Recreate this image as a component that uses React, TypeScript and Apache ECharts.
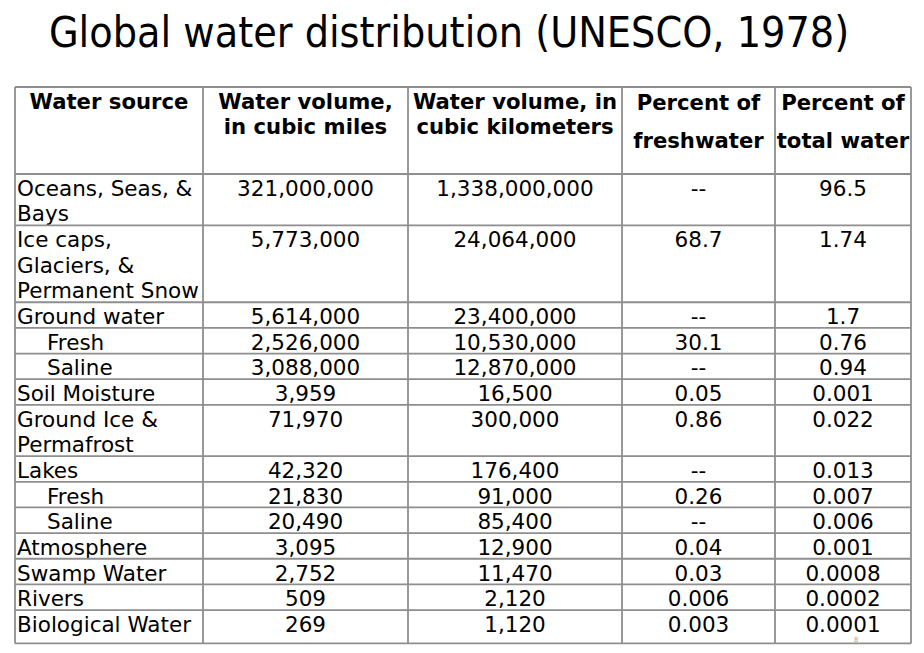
import React, { useEffect, useRef } from "react";
import * as echarts from "echarts";

const titleText = "Global water distribution (UNESCO, 1978)";

const headers: string[][] = [
  ["Water source"],
  ["Water volume,", "in cubic miles"],
  ["Water volume, in", "cubic kilometers"],
  ["Percent of", "freshwater"],
  ["Percent of", "total water"],
];

const sources: string[] = [
  "Oceans, Seas, &\nBays",
  "Ice caps,\nGlaciers, &\nPermanent Snow",
  "Ground water",
  "Fresh",
  "Saline",
  "Soil Moisture",
  "Ground Ice &\nPermafrost",
  "Lakes",
  "Fresh",
  "Saline",
  "Atmosphere",
  "Swamp Water",
  "Rivers",
  "Biological Water",
];

const subRow: boolean[] = [false, false, false, true, true, false, false, false, true, true, false, false, false, false];

const cubicMiles: string[] = [
  "321,000,000", "5,773,000", "5,614,000", "2,526,000", "3,088,000", "3,959", "71,970",
  "42,320", "21,830", "20,490", "3,095", "2,752", "509", "269",
];

const cubicKm: string[] = [
  "1,338,000,000", "24,064,000", "23,400,000", "10,530,000", "12,870,000", "16,500", "300,000",
  "176,400", "91,000", "85,400", "12,900", "11,470", "2,120", "1,120",
];

const pctFresh: string[] = [
  "--", "68.7", "--", "30.1", "--", "0.05", "0.86", "--", "0.26", "--", "0.04", "0.03", "0.006", "0.003",
];

const pctTotal: string[] = [
  "96.5", "1.74", "1.7", "0.76", "0.94", "0.001", "0.022", "0.013", "0.007", "0.006", "0.001", "0.0008", "0.0002", "0.0001",
];

// layout
const COL_X = [15, 203, 408, 622, 775, 911];
const TABLE_TOP = 87;
const HEADER_BOTTOM = 174;
const LINE_H = 25.65;
const LAST_ROW_EXTRA = 7.7;
const FONT = "DejaVu Sans, Verdana, sans-serif";
const FS = 21.5;
const FS_HEAD = 21.2;
const GRID = "#8e8e8e";

export default function App() {
  const ref = useRef<HTMLDivElement>(null);

  useEffect(() => {
    document.body.style.margin = "0";
    if (!ref.current) return;
    const chart = echarts.init(ref.current, undefined, { renderer: "svg" });

    const elements: any[] = [];
    const n = sources.length;

    // row boundaries
    const rowTops: number[] = [];
    let y = HEADER_BOTTOM;
    for (let i = 0; i < n; i++) {
      rowTops.push(y);
      const lines = sources[i].split("\n").length;
      y += lines * LINE_H + (i === n - 1 ? LAST_ROW_EXTRA : 0);
    }
    const tableBottom = y;

    // title
    elements.push({
      type: "text",
      style: {
        text: titleText,
        x: 449,
        y: 32,
        align: "center",
        verticalAlign: "middle",
        fontFamily: "Liberation Sans Narrow, Arial Narrow, DejaVu Sans Condensed, sans-serif",
        fontSize: 42.6,
        fill: "#000",
      },
    });

    // header texts
    headers.forEach((h, c) => {
      const cx = (COL_X[c] + COL_X[c + 1]) / 2;
      const lh = c >= 3 ? 38 : LINE_H;
      elements.push({
        type: "text",
        style: {
          text: h.join("\n"),
          x: cx,
          y: TABLE_TOP + 1.5 + (c >= 3 ? -5.5 : 0),
          align: "center",
          verticalAlign: "top",
          lineHeight: lh,
          fontFamily: FONT,
          fontWeight: "bold",
          fontSize: FS_HEAD,
          fill: "#000",
        },
      });
    });

    // body texts
    const cols = [cubicMiles, cubicKm, pctFresh, pctTotal];
    for (let i = 0; i < n; i++) {
      const ty = rowTops[i] + 1.5;
      elements.push({
        type: "text",
        style: {
          text: sources[i],
          x: COL_X[0] + 2 + (subRow[i] ? 30 : 0),
          y: ty,
          align: "left",
          verticalAlign: "top",
          lineHeight: LINE_H,
          fontFamily: FONT,
          fontSize: FS,
          fill: "#000",
        },
      });
      cols.forEach((arr, c) => {
        elements.push({
          type: "text",
          style: {
            text: arr[i],
            x: (COL_X[c + 1] + COL_X[c + 2]) / 2,
            y: ty,
            align: "center",
            verticalAlign: "top",
            lineHeight: LINE_H,
            fontFamily: FONT,
            fontSize: FS,
            fill: "#000",
          },
        });
      });
    }

    // grid lines
    const lineStyle = { stroke: GRID, lineWidth: 1.8 };
    COL_X.forEach((x) => {
      elements.push({
        type: "line",
        shape: { x1: x, y1: TABLE_TOP, x2: x, y2: tableBottom },
        style: lineStyle,
      });
    });
    const hLines = [TABLE_TOP, HEADER_BOTTOM, ...rowTops.slice(1), tableBottom];
    hLines.forEach((hy) => {
      elements.push({
        type: "line",
        shape: { x1: COL_X[0], y1: hy, x2: COL_X[COL_X.length - 1], y2: hy },
        style: lineStyle,
      });
    });

    // slide number
    elements.push({
      type: "text",
      style: {
        text: "8",
        x: 856,
        y: 640,
        align: "center",
        verticalAlign: "middle",
        fontFamily: FONT,
        fontSize: 7,
        fill: "#a5a5a5",
      },
    });

    chart.setOption({
      animation: false,
      backgroundColor: "#ffffff",
      graphic: { elements },
    });

    return () => chart.dispose();
  }, []);

  return <div ref={ref} style={{ width: 924, height: 653 }} />;
}
